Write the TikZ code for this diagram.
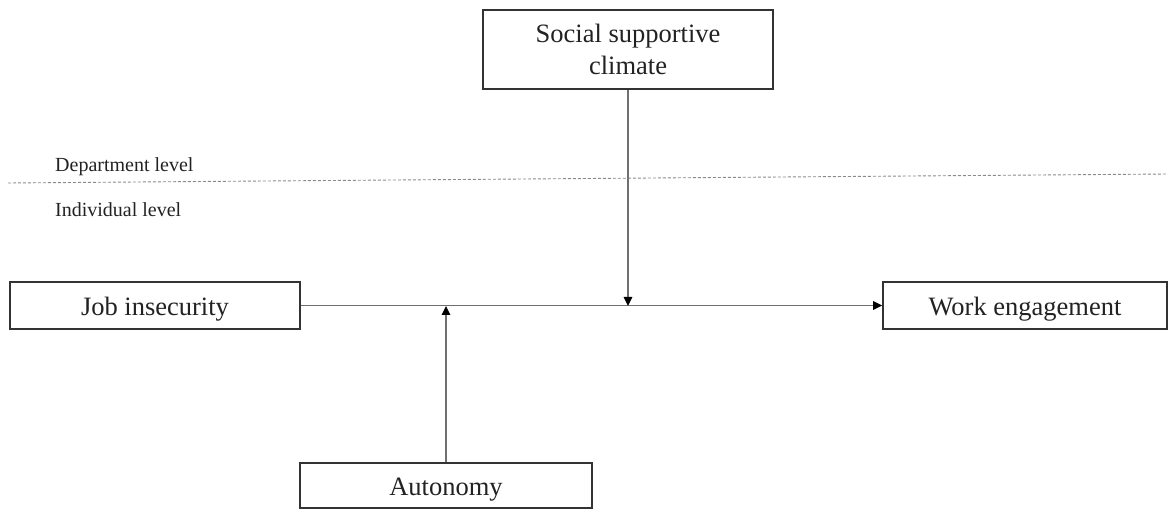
\documentclass[tikz,border=0pt]{standalone}
\usepackage{fontspec}
\setmainfont{Liberation Serif}
\usetikzlibrary{arrows.meta}
\definecolor{boxline}{HTML}{333333}
\definecolor{conn}{HTML}{707070}
\definecolor{dashc}{HTML}{8A8A8A}
\definecolor{txt}{HTML}{222222}
\begin{document}
\begin{tikzpicture}[x=1pt,y=-1pt,
  varbox/.style={draw=boxline,line width=1.6pt,inner sep=0pt,text=txt,
    font=\fontsize{26.5}{32}\selectfont,align=center},
  onel/.style={text height=24pt,text depth=4pt},
  conline/.style={draw=conn,line width=1.3pt},
  conarrow/.style={conline,-{Triangle[length=9pt,width=8.5pt,fill=black,color=black]}},
  lvl/.style={anchor=west,inner sep=0pt,text=txt,font=\fontsize{20}{22}\selectfont},
  levelline/.style={draw=dashc,line width=0.9pt,dash pattern=on 3pt off 2pt}]
\useasboundingbox (0,0) rectangle (1168,510);
\node[varbox,minimum width=290pt,minimum height=79pt] (soc) at (628,49.5) {Social supportive\\climate};
\node[varbox,onel,minimum width=290pt,minimum height=47pt] (job) at (155,305.5) {Job insecurity};
\node[varbox,onel,minimum width=284pt,minimum height=47pt] (work) at (1025,305.5) {Work engagement};
\node[varbox,onel,minimum width=292pt,minimum height=45pt] (aut) at (446,485.5) {Autonomy};
\coordinate (dl) at (8,183);
\coordinate (dr) at (1168,174);
\draw[levelline] (dl) -- (dr);
\node[lvl] (dep) at (55,167) {Department level};
\node[lvl] (ind) at (55,210) {Individual level};
\coordinate (m1) at (628,306);
\coordinate (m2) at (446,306);
\draw[conarrow] (job.east) -- (work.west);
\draw[conarrow] (soc.south) -- (m1);
\draw[conarrow] (aut.north) -- (m2);
\end{tikzpicture}
\end{document}
